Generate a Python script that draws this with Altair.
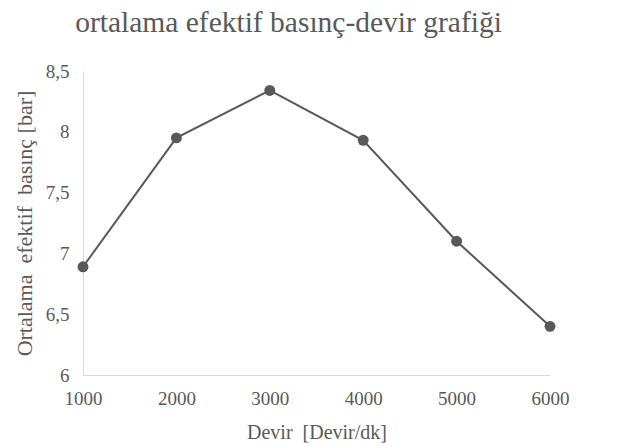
import altair as alt
import pandas as pd

devir = [1000, 2000, 3000, 4000, 5000, 6000]
basinc = [6.89, 7.95, 8.34, 7.93, 7.10, 6.40]

df = pd.DataFrame({"devir": devir, "basinc": basinc})

FONT = "Liberation Serif, Times New Roman, serif"
GRAY = "#595959"

x = alt.X("devir:Q",
          scale=alt.Scale(domain=[1000, 6000], nice=False, zero=False),
          axis=alt.Axis(title="Devir\u00a0\u00a0[Devir/dk]", values=devir, format="d",
                        grid=False, ticks=False, domainColor="#d9d9d9",
                        labelFlush=False, labelBound=False, titleFontSize=20,
                        labelPadding=14, titlePadding=14))
y = alt.Y("basinc:Q",
          scale=alt.Scale(domain=[6, 8.5], nice=False, zero=False),
          axis=alt.Axis(title="Ortalama\u00a0\u00a0efektif\u00a0\u00a0basınç [bar]",
                        values=[6, 6.5, 7, 7.5, 8, 8.5],
                        labelExpr="replace(format(datum.value, '.1~f'), '.', ',')",
                        grid=False, ticks=False, domainColor="#d9d9d9",
                        labelFlush=False, labelBound=False, titleFontSize=22,
                        labelPadding=14, titlePadding=9))

line = alt.Chart(df).mark_line(color=GRAY, strokeWidth=2).encode(x=x, y=y)
pts = alt.Chart(df).mark_circle(color=GRAY, size=120, opacity=1).encode(x=x, y=y)

chart = (line + pts).properties(
    width=467, height=304,
    title=alt.TitleParams("ortalama efektif basınç-devir grafiği", fontSize=29.5,
                          font=FONT, color=GRAY, fontWeight="normal",
                          anchor="middle", dx=-28, offset=24),
    autosize=alt.AutoSizeParams(type="none"),
    padding={"left": 83, "top": 71, "right": 75, "bottom": 71},
).configure_axis(
    labelFont=FONT, titleFont=FONT, labelFontSize=19,
    labelColor=GRAY, titleColor=GRAY, titleFontWeight="normal",
).configure_view(stroke=None)

chart.save("out.html", embed_options={"renderer": "svg", "actions": False})
